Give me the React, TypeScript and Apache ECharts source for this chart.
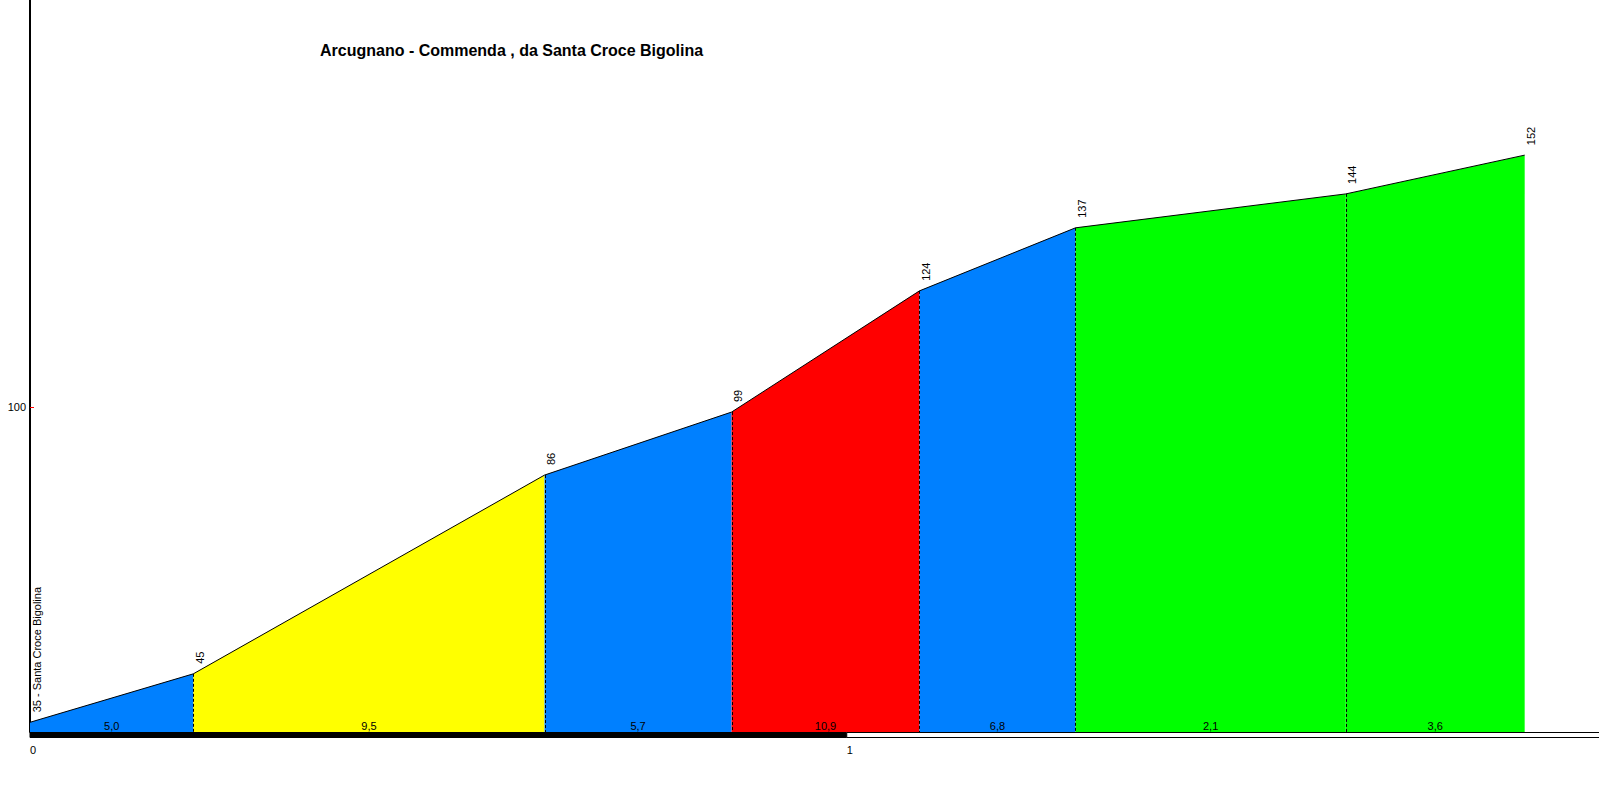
import React, { useEffect, useRef } from "react";
import * as echarts from "echarts";

// ---- data ----
const distancesKm = [0, 0.2, 0.63, 0.859, 1.089, 1.28, 1.611, 1.83];
const elevations = [35, 45, 86, 99, 124, 137, 144, 152];
const pointLabels = ["35 - Santa Croce Bigolina", "45", "86", "99", "124", "137", "144", "152"];
const gradeLabels = ["5,0", "9,5", "5,7", "10,9", "6,8", "2,1", "3,6"];
const segmentColors = ["#0080ff", "#ffff00", "#0080ff", "#ff0000", "#0080ff", "#00ff00", "#00ff00"];
const scaleBandsKm = [
  [0, 1],
  [1, 2],
];
const xTickValues = [0, 1];
const yTickValues = [100];
const titleText = "Arcugnano - Commenda , da Santa Croce Bigolina";

const Y_MIN = 33;
const Y_MAX = 184;
const X_MAX = 1.921;
const FONT = "'Liberation Sans', Arial, sans-serif";

export default function App() {
  const ref = useRef<HTMLDivElement>(null);

  useEffect(() => {
    if (!ref.current) return;
    const chart = echarts.init(ref.current, null, { renderer: "svg" });

    const segmentSeries = gradeLabels.map((_, i) => ({
      type: "line",
      data: [
        [distancesKm[i], elevations[i]],
        [distancesKm[i + 1], elevations[i + 1]],
      ],
      symbol: "none",
      lineStyle: { color: "#000", width: 1 },
      areaStyle: { color: segmentColors[i], opacity: 1, origin: "start" },
      z: 2,
      silent: true,
    }));

    const innerIdx = distancesKm.map((_, i) => i).slice(1, distancesKm.length - 1);

    const option: any = {
      animation: false,
      backgroundColor: "#fff",
      grid: { left: 30, right: 0, top: 0, bottom: 69, containLabel: false },
      xAxis: {
        type: "value",
        min: 0,
        max: X_MAX,
        axisLine: { show: false },
        axisTick: { show: false },
        splitLine: { show: false },
        axisLabel: {
          customValues: xTickValues,
          formatter: (v: number) => String(v),
          fontSize: 11,
          fontFamily: FONT,
          color: "#000",
          margin: 12,
          align: "left",
        },
      },
      yAxis: {
        type: "value",
        min: Y_MIN,
        max: Y_MAX,
        axisLine: { show: true, lineStyle: { color: "#000", width: 2 } },
        axisTick: {
          show: true,
          inside: true,
          length: 4,
          customValues: yTickValues,
          lineStyle: { color: "#ff0000", width: 1 },
        },
        splitLine: { show: false },
        axisLabel: {
          customValues: yTickValues,
          fontSize: 11,
          fontFamily: FONT,
          color: "#000",
          margin: 4,
        },
      },
      graphic: [
        {
          type: "text",
          x: 320,
          y: 50,
          style: {
            text: titleText,
            font: `bold 16px ${FONT}`,
            fill: "#000",
            align: "left",
            verticalAlign: "middle",
          },
        },
      ],
      series: [
        ...segmentSeries,
        {
          type: "custom",
          z: 4,
          silent: true,
          data: innerIdx.map((i) => [distancesKm[i], elevations[i]]),
          renderItem: (params: any, api: any) => {
            const top = api.coord([api.value(0), api.value(1)]);
            const bot = api.coord([api.value(0), Y_MIN]);
            const x = Math.round(top[0]) + 0.5;
            return {
              type: "line",
              shape: { x1: x, y1: top[1], x2: x, y2: bot[1] },
              style: { stroke: "#000", lineWidth: 1, lineDash: [3, 2] },
            };
          },
        },
        {
          type: "custom",
          z: 5,
          silent: true,
          data: scaleBandsKm,
          renderItem: (params: any, api: any) => {
            const a = api.coord([api.value(0), Y_MIN]);
            const b = api.coord([api.value(1), Y_MIN]);
            const y = Math.round(a[1]) + 0.5;
            const black = params.dataIndex % 2 === 0;
            return {
              type: "rect",
              shape: { x: a[0], y: y, width: b[0] - a[0], height: 5 },
              style: { fill: black ? "#000" : "#fff", stroke: "#000", lineWidth: 1 },
            };
          },
        },
        {
          type: "custom",
          z: 6,
          silent: true,
          data: distancesKm.map((d, i) => [d, elevations[i]]),
          renderItem: (params: any, api: any) => {
            const p = api.coord([api.value(0), api.value(1)]);
            return {
              type: "text",
              x: p[0] + 6.5,
              y: p[1] - 10,
              rotation: Math.PI / 2,
              style: {
                text: pointLabels[params.dataIndex],
                fontSize: 11,
                fontFamily: FONT,
                fill: "#000",
                align: "left",
                verticalAlign: "middle",
              },
            };
          },
        },
        {
          type: "custom",
          z: 6,
          silent: true,
          data: gradeLabels.map((_, i) => [(distancesKm[i] + distancesKm[i + 1]) / 2, Y_MIN]),
          renderItem: (params: any, api: any) => {
            const p = api.coord([api.value(0), api.value(1)]);
            return {
              type: "text",
              x: p[0],
              y: p[1] - 6.5,
              style: {
                text: gradeLabels[params.dataIndex],
                fontSize: 11,
                fontFamily: FONT,
                fill: "#000",
                align: "center",
                verticalAlign: "middle",
              },
            };
          },
        },
      ],
    };

    chart.setOption(option);
    return () => chart.dispose();
  }, []);

  return (
    <div
      ref={ref}
      style={{ position: "fixed", left: 0, top: 0, width: 1599, height: 801, background: "#fff" }}
    />
  );
}
